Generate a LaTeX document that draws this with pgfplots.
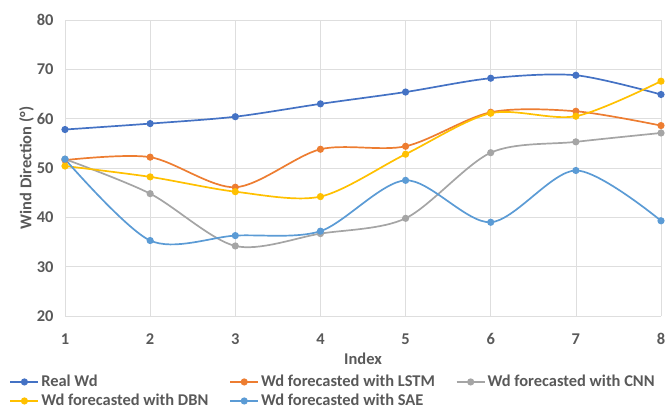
\documentclass[border=0pt]{standalone}
\usepackage{pgfplots}
\pgfplotsset{compat=1.18}
\usepackage{fontspec}
\setmainfont{Carlito}[BoldFont={Carlito Bold}]
\definecolor{cReal}{HTML}{4472C4}
\definecolor{cLSTM}{HTML}{ED7D31}
\definecolor{cCNN}{HTML}{A5A5A5}
\definecolor{cDBN}{HTML}{FFC000}
\definecolor{cSAE}{HTML}{5B9BD5}
\definecolor{txt}{HTML}{595959}
\newcommand{\ff}{\fontsize{16.5}{18}\selectfont\bfseries}
\begin{document}
\begin{tikzpicture}[x=1bp,y=1bp]
\useasboundingbox (0,0) rectangle (668,409);
\begin{axis}[
  at={(65bp,93bp)}, anchor=south west,
  scale only axis, width=596bp, height=296bp,
  xmin=1, xmax=8, ymin=20, ymax=80,
  xtick={1,...,8}, ytick={20,30,...,80},
  grid=major, grid style={draw=black!13, line width=0.7bp},
  axis line style={draw=none},
  major tick length=0pt,
  tick label style={font=\ff, text=txt},
  /pgf/number format/assume math mode=true,
  xticklabel style={yshift=-14bp},
  yticklabel style={xshift=-8bp},
  xlabel={Index},
  xlabel style={font=\ff, text=txt, yshift=-3bp, inner sep=1bp},
  ylabel={Wind Direction (°)},
  ylabel style={font=\ff, text=txt, yshift=-4bp},
  every axis plot/.append style={line width=1.7bp, smooth, tension=0.5, mark=*, mark size=2.7bp},
  legend columns=3,
  legend style={at={(-0.095,-0.19)}, anchor=north west, draw=none, fill=none,
    font=\ff, text=txt, inner sep=1bp,
    /tikz/every even column/.append style={column sep=19bp},
    row sep=2bp},
  legend cell align=left,
  legend image code/.code={\draw[mark repeat=2, mark phase=2, line width=1.7bp] plot coordinates {(0bp,0bp) (14bp,0bp) (28bp,0bp)};},
]
\addplot[color=cReal, mark options={fill=cReal}] coordinates {(1,57.8)(2,59.0)(3,60.4)(4,63.0)(5,65.4)(6,68.2)(7,68.8)(8,64.9)};
\addlegendentry{Real Wd}
\addplot[color=cLSTM, mark options={fill=cLSTM}] coordinates {(1,51.6)(2,52.2)(3,46.1)(4,53.8)(5,54.4)(6,61.3)(7,61.5)(8,58.6)};
\addlegendentry{Wd forecasted with LSTM}
\addplot[color=cCNN, mark options={fill=cCNN}] coordinates {(1,51.8)(2,44.8)(3,34.2)(4,36.7)(5,39.8)(6,53.1)(7,55.3)(8,57.1)};
\addlegendentry{Wd forecasted with CNN}
\addplot[color=cDBN, mark options={fill=cDBN}] coordinates {(1,50.4)(2,48.2)(3,45.2)(4,44.2)(5,52.8)(6,61.1)(7,60.5)(8,67.6)};
\addlegendentry{Wd forecasted with DBN}
\addplot[color=cSAE, mark options={fill=cSAE}] coordinates {(1,51.8)(2,35.3)(3,36.3)(4,37.2)(5,47.5)(6,39.0)(7,49.5)(8,39.3)};
\addlegendentry{Wd forecasted with SAE}
\end{axis}
\end{tikzpicture}
\end{document}
